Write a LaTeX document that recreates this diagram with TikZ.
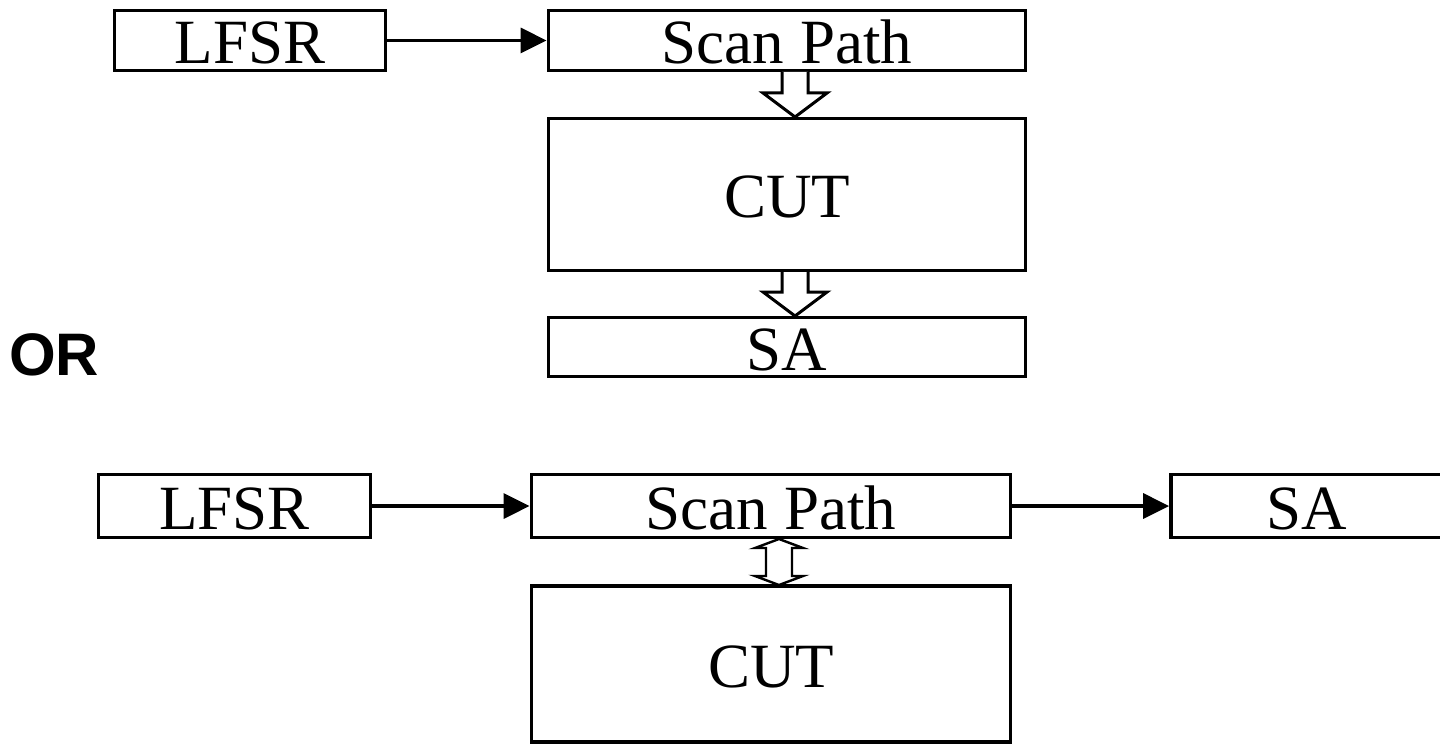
\documentclass[tikz,border=0pt]{standalone}
\usepackage{fontspec}
\setmainfont{Liberation Serif}
\newfontfamily\orfont{Liberation Sans}
\usetikzlibrary{arrows.meta,calc}
\tikzset{
  blk/.style={draw, line width=3.8pt, inner sep=0pt, fill=white,
    font=\fontsize{63}{70}\selectfont, text height=46pt, text depth=0pt},
  conn/.style={line width=3.3pt, -{Triangle[length=26pt,width=25pt]}},
  hollow/.style={draw, line width=3pt, fill=white, line join=miter},
  hollow2/.style={draw, line width=2.4pt, fill=white, line join=miter}
}
\begin{document}
\begin{tikzpicture}[x=1pt,y=-1pt]
\useasboundingbox (0,0) rectangle (1440,746);
% top variant
\node[blk, minimum width=271pt, minimum height=60pt] (L1) at (250,40.5) {LFSR};
\node[blk, minimum width=477pt, minimum height=60pt] (S1) at (787,40.5) {Scan Path};
\node[blk, minimum width=477pt, minimum height=152pt] (C1) at (787,194.5) {CUT};
\node[blk, minimum width=477pt, minimum height=59pt] (A1) at (787,347) {SA};
\draw[conn] (L1) -- (S1);
\draw[hollow] (782,72) -- (782,93) -- (763,93) -- (795,117) -- (827,93) -- (808,93) -- (808,72);
\draw[hollow] (782,272) -- (782,292) -- (763,292) -- (795,316) -- (827,292) -- (808,292) -- (808,272);
% OR
\node[anchor=base west, inner sep=0pt, font=\orfont\bfseries\fontsize{60}{66}\selectfont] (or) at (9,375) {OR};
% bottom variant
\node[blk, minimum width=272pt, minimum height=63pt] (L2) at (234.5,506) {LFSR};
\node[blk, minimum width=479pt, minimum height=63pt] (S2) at (771,506) {Scan Path};
\node[blk, minimum width=272pt, minimum height=63pt] (A2) at (1307,506) {SA};
\node[blk, minimum width=479pt, minimum height=156pt] (C2) at (771,664) {CUT};
\draw[conn] (L2) -- (S2);
\draw[conn] (S2) -- (A2);
\draw[hollow2] (779,539) -- (803,548) -- (792,548) -- (792,576) -- (803,576) -- (779,585) -- (755,576) -- (766,576) -- (766,548) -- (755,548) -- cycle;
\end{tikzpicture}
\end{document}
